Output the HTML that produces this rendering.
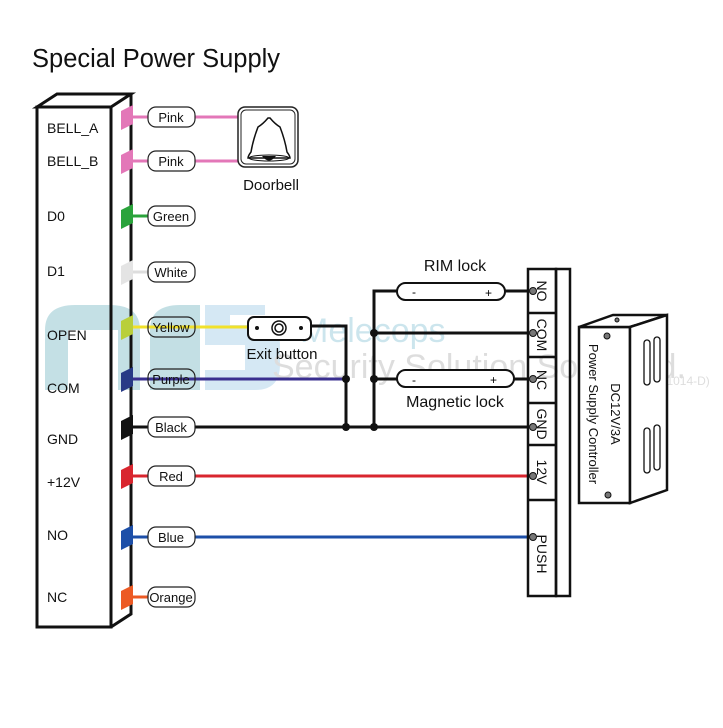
<!DOCTYPE html><html><head><style>body{margin:0;background:#fff}</style></head><body>
<svg width="723" height="723" viewBox="0 0 723 723" xmlns="http://www.w3.org/2000/svg" font-family="Liberation Sans, sans-serif">
<rect width="723" height="723" fill="#fff"/>
<text x="32" y="67" font-size="25.5" fill="#111">Special Power Supply</text>
<!-- watermark -->
<g opacity="0.28">
<path d="M45 390 V330 Q45 305 75 305 H110 Q140 305 140 330 V390 H118 V330 H68 V390Z" fill="#2a8fa0"/>
<path d="M150 390 V330 Q150 305 180 305 H200 V390Z" fill="#2a8fa0"/>
<path d="M265 305 H205 V345 H245 V370 H205 V390 H255 Q280 390 280 365 V345 Q280 325 255 325 H230 V315 H265Z" fill="#6ab0d8"/>
<text x="300" y="342" font-size="34" fill="#4aa6c0">Melecops</text>
<text x="272" y="378" font-size="34" fill="#888">Security Solution Son. Bhd.</text>
<text x="650" y="385" font-size="12" fill="#888">(811014-D)</text>
</g>
<!-- left panel -->
<g stroke="#111" stroke-width="3" fill="none">
<rect x="37" y="107" width="74" height="520"/>
<polygon points="37,107 57,94 131,94 111,107"/>
<polyline points="111,627 131,614 131,94"/>
</g>
<g font-size="14" fill="#111">
<text x="47" y="133">BELL_A</text><text x="47" y="166">BELL_B</text>
<text x="47" y="221">D0</text><text x="47" y="276">D1</text>
<text x="47" y="340">OPEN</text><text x="47" y="393">COM</text>
<text x="47" y="444">GND</text><text x="47" y="487">+12V</text>
<text x="47" y="540">NO</text><text x="47" y="602">NC</text>
</g>
<!-- wires -->
<g stroke-width="3" fill="none">
<path d="M131 117 H240" stroke="#e377b8"/><path d="M131 161 H240" stroke="#e377b8"/>
<path d="M131 216 H150" stroke="#2aa33b"/>
<path d="M131 272 H150" stroke="#ddd"/>
<path d="M131 327 H250" stroke="#f1e12a"/>
<path d="M131 379 H346" stroke="#3a2f8f"/>
<path d="M131 427 H528" stroke="#111"/>
<path d="M131 476 H528" stroke="#d9262f"/>
<path d="M131 537 H528" stroke="#1d4fa8"/>
<path d="M131 597 H150" stroke="#ec5a24"/>
<g stroke="#111">
<path d="M311 326 H346 V427"/>
<path d="M374 427 V291 H397"/>
<path d="M505 291 H528"/>
<path d="M374 333 H528"/>
<path d="M374 379 H397"/><path d="M514 379 H528"/>
</g>
</g>
<g fill="#111"><circle cx="346" cy="379" r="4"/><circle cx="346" cy="427" r="4"/><circle cx="374" cy="333" r="4"/><circle cx="374" cy="379" r="4"/><circle cx="374" cy="427" r="4"/></g>
<!-- color tabs -->
<g>
<polygon points="121,111 133,105 133,124 121,130" fill="#e377b8"/>
<polygon points="121,155 133,149 133,168 121,174" fill="#e377b8"/>
<polygon points="121,210 133,204 133,223 121,229" fill="#2aa33b"/>
<polygon points="121,266 133,260 133,279 121,285" fill="#e4e4e4"/>
<polygon points="121,321 133,315 133,334 121,340" fill="#b9cf3a"/>
<polygon points="121,373 133,367 133,386 121,392" fill="#283a86"/>
<polygon points="121,421 133,415 133,434 121,440" fill="#111"/>
<polygon points="121,470 133,464 133,483 121,489" fill="#d9262f"/>
<polygon points="121,531 133,525 133,544 121,550" fill="#1d4fa8"/>
<polygon points="121,591 133,585 133,604 121,610" fill="#ec5a24"/>
</g>
<!-- labels -->
<g stroke="#222" stroke-width="1.2" fill="#fff">
<rect x="148" y="107" width="47" height="20" rx="8"/><rect x="148" y="151" width="47" height="20" rx="8"/>
<rect x="148" y="206" width="47" height="20" rx="8"/><rect x="148" y="262" width="47" height="20" rx="8"/>
<rect x="148" y="317" width="47" height="20" rx="8" fill="none"/><rect x="148" y="369" width="47" height="20" rx="8" fill="none"/>
<rect x="148" y="417" width="47" height="20" rx="8"/><rect x="148" y="466" width="47" height="20" rx="8"/>
<rect x="148" y="527" width="47" height="20" rx="8"/><rect x="148" y="587" width="47" height="20" rx="8"/>
</g>
<g font-size="13" fill="#111" text-anchor="middle">
<text x="171" y="122">Pink</text><text x="171" y="166">Pink</text><text x="171" y="221">Green</text><text x="171" y="277">White</text>
<text x="171" y="332">Yellow</text><text x="171" y="384">Purple</text><text x="171" y="432">Black</text><text x="171" y="481">Red</text>
<text x="171" y="542">Blue</text><text x="171" y="602">Orange</text>
</g>
<!-- doorbell -->
<rect x="238" y="107" width="60" height="60" rx="7" fill="#fff" stroke="#222" stroke-width="1.5"/>
<rect x="241" y="110" width="54" height="54" rx="5" fill="none" stroke="#222" stroke-width="1"/>
<path d="M268 118 Q263 124 258 127 Q253 140 251 152 Q248 156 248 158 H290 Q290 156 287 152 Q285 140 280 127 Q275 124 270 118Z" fill="#fff" stroke="#111" stroke-width="1.5"/>
<ellipse cx="269" cy="158" rx="20" ry="3" fill="none" stroke="#111"/>
<path d="M262 156 Q269 165 276 156Z" fill="#111"/>
<text x="271" y="190" font-size="15" text-anchor="middle" fill="#111">Doorbell</text>
<!-- exit button -->
<rect x="248" y="317" width="63" height="23" rx="6" fill="#fff" stroke="#111" stroke-width="2"/>
<circle cx="257" cy="328" r="2" fill="#111"/><circle cx="301" cy="328" r="2" fill="#111"/>
<circle cx="279" cy="328" r="7" fill="none" stroke="#111" stroke-width="1.5"/><circle cx="279" cy="328" r="4" fill="none" stroke="#111" stroke-width="1.5"/>
<text x="282" y="359" font-size="15" text-anchor="middle" fill="#111">Exit button</text>
<!-- locks -->
<rect x="397" y="283" width="108" height="17" rx="8.5" fill="#fff" stroke="#111" stroke-width="2"/>
<text x="412" y="296" font-size="12">-</text><text x="485" y="297" font-size="12">+</text>
<text x="455" y="271" font-size="16" text-anchor="middle" fill="#111">RIM lock</text>
<rect x="397" y="370" width="117" height="17" rx="8.5" fill="#fff" stroke="#111" stroke-width="2"/>
<text x="412" y="384" font-size="12">-</text><text x="490" y="384" font-size="12">+</text>
<text x="455" y="407" font-size="16" text-anchor="middle" fill="#111">Magnetic lock</text>
<!-- terminal block -->
<g stroke="#111" stroke-width="2.5" fill="none">
<rect x="528" y="269" width="28" height="327"/>
<rect x="556" y="269" width="14" height="327"/>
<path d="M528 313 H556 M528 357 H556 M528 403 H556 M528 445 H556 M528 500 H556"/>
</g>
<g fill="#777" stroke="#111" stroke-width="1">
<circle cx="533" cy="291" r="3.5"/><circle cx="533" cy="333" r="3.5"/><circle cx="533" cy="379" r="3.5"/>
<circle cx="533" cy="427" r="3.5"/><circle cx="533" cy="476" r="3.5"/><circle cx="533" cy="537" r="3.5"/>
</g>
<g font-size="14" fill="#111">
<text transform="translate(542,291) rotate(90)" text-anchor="middle" dy="5">NO</text>
<text transform="translate(542,335) rotate(90)" text-anchor="middle" dy="5">COM</text>
<text transform="translate(542,380) rotate(90)" text-anchor="middle" dy="5">NC</text>
<text transform="translate(542,424) rotate(90)" text-anchor="middle" dy="5">GND</text>
<text transform="translate(542,472) rotate(90)" text-anchor="middle" dy="5">12V</text>
<text transform="translate(542,554) rotate(90)" text-anchor="middle" dy="5">PUSH</text>
</g>
<!-- power supply -->
<g stroke="#111" stroke-width="2.5" fill="#fff">
<rect x="579" y="327" width="51" height="176"/>
<polygon points="579,327 613,315 667,315 630,327"/>
<polygon points="630,327 667,315 667,490 630,503"/>
</g>
<g fill="none" stroke="#111" stroke-width="1.3">
<rect x="644" y="340" width="6" height="45" rx="3"/><rect x="654" y="337" width="6" height="45" rx="3"/>
<rect x="644" y="428" width="6" height="45" rx="3"/><rect x="654" y="425" width="6" height="45" rx="3"/>
</g>
<circle cx="607" cy="336" r="3" fill="#777" stroke="#111"/><circle cx="608" cy="495" r="3" fill="#777" stroke="#111"/>
<circle cx="617" cy="320" r="2" fill="#777" stroke="#111"/>
<g font-size="13" fill="#111">
<text transform="translate(611,414) rotate(90)" text-anchor="middle" dy="0">DC12V/3A</text>
<text transform="translate(589,414) rotate(90)" text-anchor="middle" dy="0">Power Supply Controller</text>
</g>
</svg>
</body></html>
